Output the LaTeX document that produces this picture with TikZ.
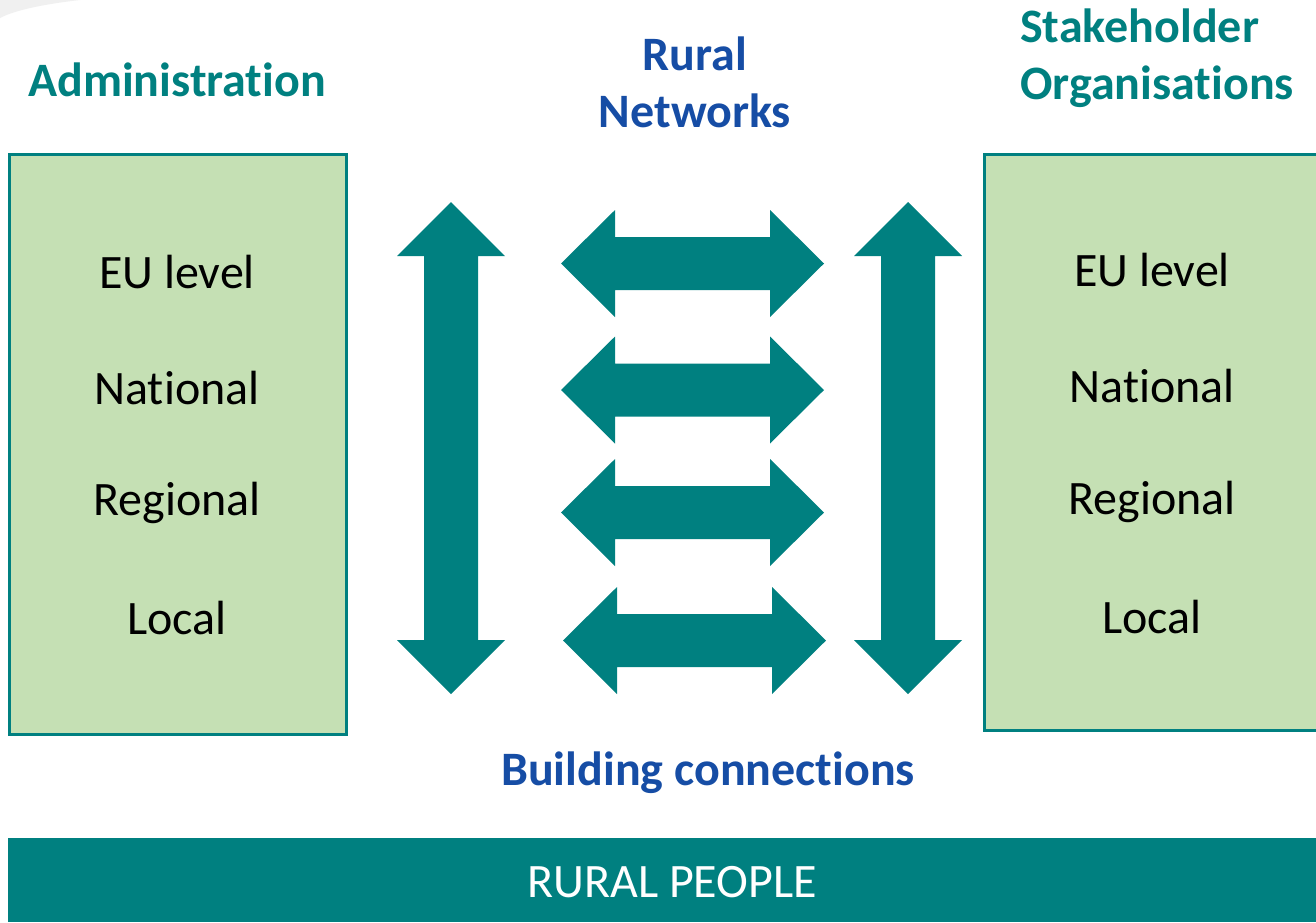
\documentclass[tikz,border=0pt]{standalone}
\usepackage{fontspec}
\setmainfont[Ligatures=NoCommon]{Carlito}
\definecolor{teal1}{HTML}{008080}
\definecolor{boxgreen}{HTML}{C5E0B4}
\definecolor{blue1}{HTML}{164DA5}
\begin{document}
\begin{tikzpicture}[x=1pt,y=-1pt,
  levelbox/.style={draw=teal1,line width=3pt,fill=boxgreen},
  title/.style={font=\fontsize{48}{57}\selectfont\bfseries,align=center,inner sep=0pt},
  level/.style={font=\fontsize{48}{57}\selectfont,text=black,inner sep=0pt},
  harrow/.pic={\fill[teal1] (-131.5,0) -- (-77.5,-53.5) -- (-77.5,-26.5) -- (77.5,-26.5) -- (77.5,-53.5) -- (131.5,0) -- (77.5,53.5) -- (77.5,26.5) -- (-77.5,26.5) -- (-77.5,53.5) -- cycle;},
  varrow/.pic={\fill[teal1] (0,-246) -- (54,-192) -- (27,-192) -- (27,192) -- (54,192) -- (0,246) -- (-54,192) -- (-27,192) -- (-27,-192) -- (-54,-192) -- cycle;}
]
\useasboundingbox (0,0) rectangle (1316,922);
\fill[white] (0,0) rectangle (1316,922);
\fill[gray!12] (0,0) -- (80,0) .. controls (45,4) and (15,10) .. (0,18) -- cycle;
% boxes
\draw[levelbox] (9,154) rectangle (346,734);
\draw[levelbox] (984,154) rectangle (1330,730);
\node[title,text=teal1] (adm) at (177,80) {Administration};
\node[title,text=blue1] (rn) at (695,82) {Rural\\Networks};
\node[title,text=teal1,align=left,anchor=west] (so) at (1020,58) {Stakeholder\\Organisations};
\node[level] (l1) at (177,272) {EU level};
\node[level] (l2) at (177,388) {National};
\node[level] (l3) at (177,503) {Regional};
\node[level] (l4) at (177,618) {Local};
\node[level] (r1) at (1152,270) {EU level};
\node[level] (r2) at (1152,386) {National};
\node[level] (r3) at (1152,502) {Regional};
\node[level] (r4) at (1152,617) {Local};
% arrows
\pic at (451,448) {varrow};
\pic at (908,448) {varrow};
\pic at (692.5,263.5) {harrow};
\pic at (692.5,390) {harrow};
\pic at (692.5,512.5) {harrow};
\pic at (694.5,640.5) {harrow};
\node[title,text=blue1] (bc) at (708,773) {Building connections};
\fill[teal1] (8,838) rectangle (1316,922);
\node[level,text=white] (rp) at (672,882) {RURAL PEOPLE};
\end{tikzpicture}
\end{document}
